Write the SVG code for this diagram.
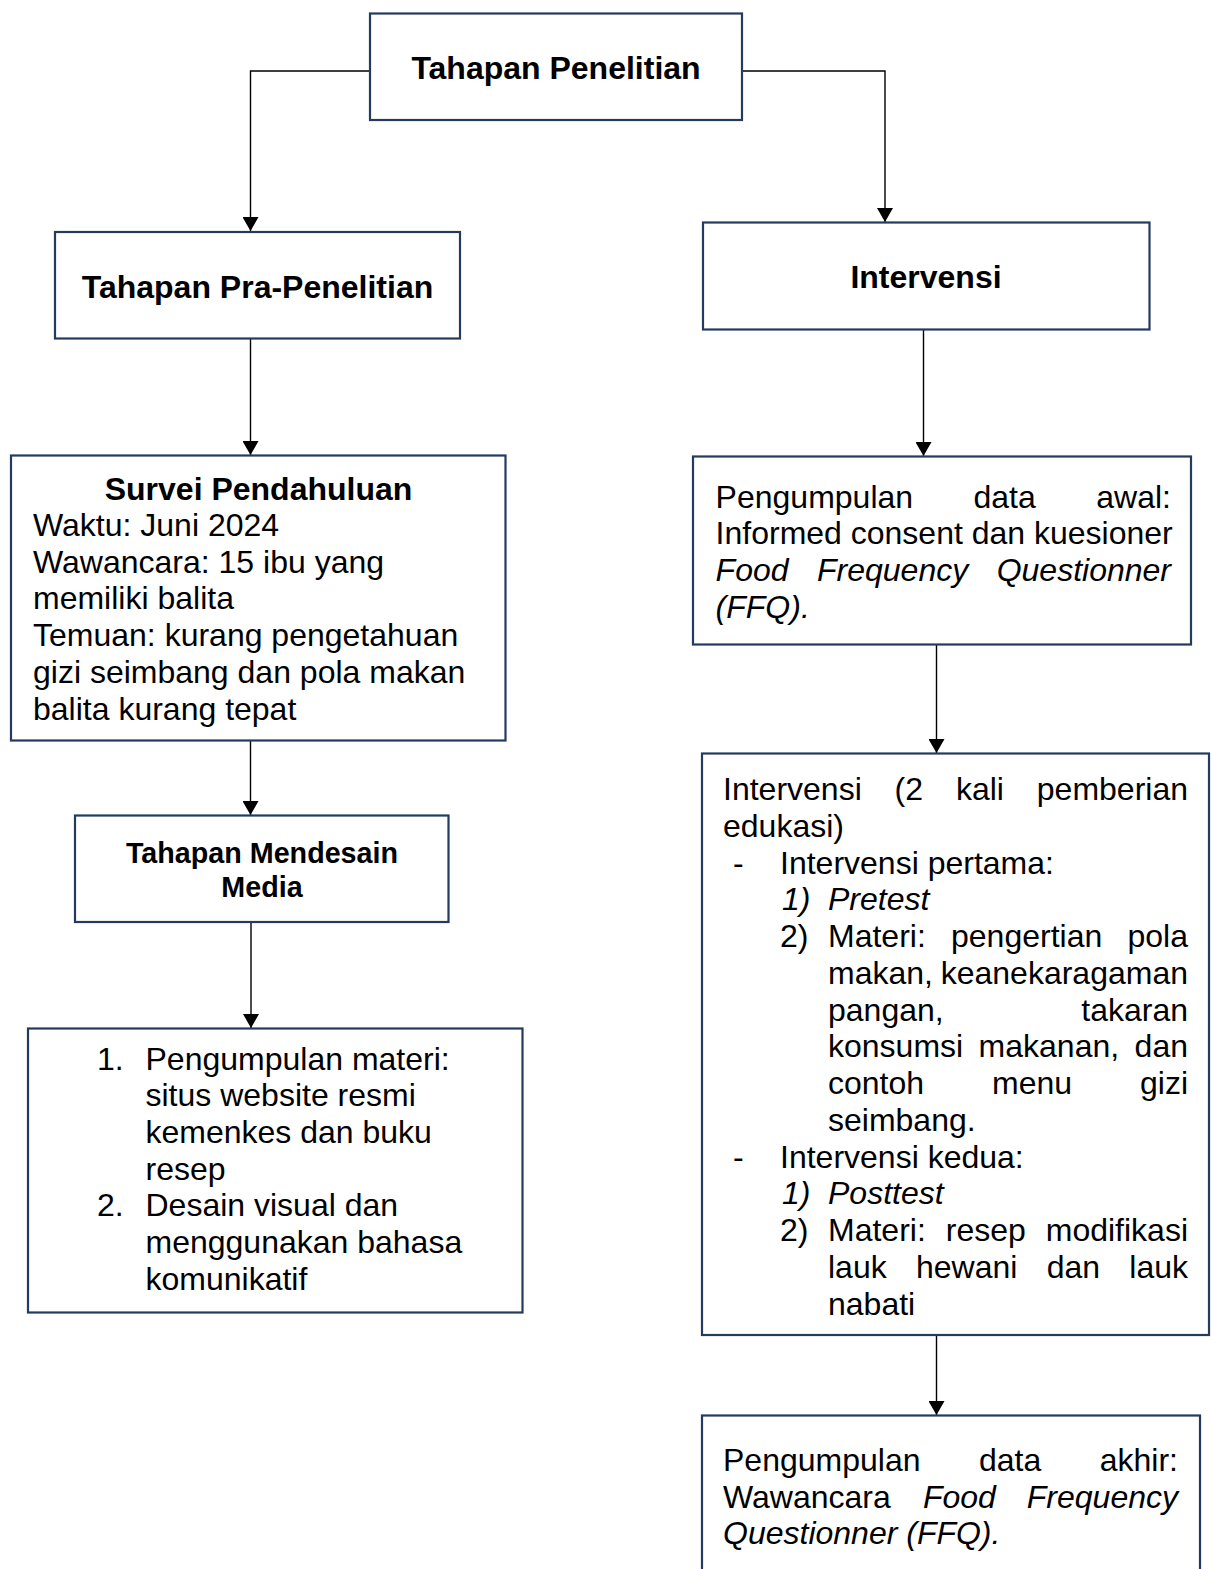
<svg xmlns="http://www.w3.org/2000/svg" width="1212" height="1569" viewBox="0 0 1212 1569">
<style>
  .box { fill: #ffffff; stroke: #243a5e; stroke-width: 2.2; }
  .conn { fill: none; stroke: #000000; stroke-width: 1.4; }
  text { font-family: "Liberation Sans", Arial, sans-serif; fill: #000000; font-size: 32px; }
  .b { font-weight: bold; }
  .c { text-anchor: middle; }
  .e { text-anchor: end; }
  .i { font-style: italic; }
  .m { font-size: 28.7px; }
</style>
<defs>
  <marker id="arr" markerUnits="userSpaceOnUse" markerWidth="14" markerHeight="16" refX="14" refY="8" orient="auto">
    <path d="M0,0 L14,8 L0,16 Z" fill="#000000"/>
  </marker>
</defs>
<rect width="1212" height="1569" fill="#ffffff"/>

<g id="connectors">
  <path class="conn" d="M370,71 H250.5 V231" marker-end="url(#arr)"/>
  <path class="conn" d="M742,71 H885 V222" marker-end="url(#arr)"/>
  <path class="conn" d="M250.5,339 V455" marker-end="url(#arr)"/>
  <path class="conn" d="M250.5,741 V815" marker-end="url(#arr)"/>
  <path class="conn" d="M251,922 V1028" marker-end="url(#arr)"/>
  <path class="conn" d="M923.5,330 V456" marker-end="url(#arr)"/>
  <path class="conn" d="M936.5,645 V753" marker-end="url(#arr)"/>
  <path class="conn" d="M936.5,1335 V1415" marker-end="url(#arr)"/>
</g>

<g id="node-tahapan-penelitian">
  <rect class="box" x="370" y="13.5" width="372" height="106.5"/>
  <text class="b c" x="556" y="79">Tahapan Penelitian</text>
</g>

<g id="node-pra-penelitian">
  <rect class="box" x="55" y="232" width="405" height="106.5"/>
  <text class="b c" x="257.5" y="298">Tahapan Pra-Penelitian</text>
</g>

<g id="node-intervensi">
  <rect class="box" x="703" y="222.5" width="446.5" height="107"/>
  <text class="b c" x="926" y="288">Intervensi</text>
</g>

<g id="node-survei">
  <rect class="box" x="11" y="455.5" width="494.5" height="285"/>
  <text class="b c" x="258.5" y="500">Survei Pendahuluan</text>
  <text x="33" y="536">Waktu: Juni 2024</text>
  <text x="33" y="572.7">Wawancara: 15 ibu yang</text>
  <text x="33" y="609.4">memiliki balita</text>
  <text x="33" y="646.1">Temuan: kurang pengetahuan</text>
  <text x="33" y="682.8">gizi seimbang dan pola makan</text>
  <text x="33" y="719.5">balita kurang tepat</text>
</g>

<g id="node-mendesain">
  <rect class="box" x="75" y="815.5" width="373.5" height="106.5"/>
  <text class="b c m" x="262" y="863">Tahapan Mendesain</text>
  <text class="b c m" x="262" y="897">Media</text>
</g>

<g id="node-materi">
  <rect class="box" x="28" y="1028.5" width="494.5" height="284"/>
  <text x="97" y="1069.5">1.</text>
  <text x="145.5" y="1069.5">Pengumpulan materi:</text>
  <text x="145.5" y="1106.2">situs website resmi</text>
  <text x="145.5" y="1142.9">kemenkes dan buku</text>
  <text x="145.5" y="1179.6">resep</text>
  <text x="97" y="1216.3">2.</text>
  <text x="145.5" y="1216.3">Desain visual dan</text>
  <text x="145.5" y="1253">menggunakan bahasa</text>
  <text x="145.5" y="1289.7">komunikatif</text>
</g>

<g id="node-data-awal">
  <rect class="box" x="693" y="456.5" width="498" height="188"/>
  <text x="715.6" y="507.5">Pengumpulan</text>
  <text x="973.5" y="507.5">data</text>
  <text class="e" x="1171" y="507.5">awal:</text>
  <text x="715.6" y="544.2">Informed consent dan kuesioner</text>
  <text class="i" x="715.6" y="580.9">Food</text>
  <text class="i" x="817" y="580.9">Frequency</text>
  <text class="i e" x="1171" y="580.9">Questionner</text>
  <text class="i" x="715.6" y="617.6">(FFQ).</text>
</g>

<g id="node-intervensi-detail">
  <rect class="box" x="702" y="753.5" width="507" height="581.5"/>
  <text x="723" y="800">Intervensi</text>
  <text x="894.6" y="800">(2</text>
  <text x="955.9" y="800">kali</text>
  <text class="e" x="1188" y="800">pemberian</text>
  <text x="723" y="836.75">edukasi)</text>
  <text x="733" y="873.5">-</text>
  <text x="780" y="873.5">Intervensi pertama:</text>
  <text class="i" x="782" y="910.25">1)</text>
  <text class="i" x="828" y="910.25">Pretest</text>
  <text x="780" y="947">2)</text>
  <text x="828" y="947">Materi:</text>
  <text x="951" y="947">pengertian</text>
  <text class="e" x="1188" y="947">pola</text>
  <text x="828" y="983.75">makan,</text>
  <text class="e" x="1188" y="983.75">keanekaragaman</text>
  <text x="828" y="1020.5">pangan,</text>
  <text class="e" x="1188" y="1020.5">takaran</text>
  <text x="828" y="1057.25">konsumsi</text>
  <text x="978.6" y="1057.25">makanan,</text>
  <text class="e" x="1188" y="1057.25">dan</text>
  <text x="828" y="1094">contoh</text>
  <text x="992.1" y="1094">menu</text>
  <text class="e" x="1188" y="1094">gizi</text>
  <text x="828" y="1130.75">seimbang.</text>
  <text x="733" y="1167.5">-</text>
  <text x="780" y="1167.5">Intervensi kedua:</text>
  <text class="i" x="782" y="1204.25">1)</text>
  <text class="i" x="828" y="1204.25">Posttest</text>
  <text x="780" y="1241">2)</text>
  <text x="828" y="1241">Materi:</text>
  <text x="945.8" y="1241">resep</text>
  <text class="e" x="1188" y="1241">modifikasi</text>
  <text x="828" y="1277.75">lauk</text>
  <text x="916" y="1277.75">hewani</text>
  <text x="1046.7" y="1277.75">dan</text>
  <text class="e" x="1188" y="1277.75">lauk</text>
  <text x="828" y="1314.5">nabati</text>
</g>

<g id="node-data-akhir">
  <rect class="box" x="702" y="1415.5" width="498" height="170"/>
  <text x="723" y="1471">Pengumpulan</text>
  <text x="978.9" y="1471">data</text>
  <text class="e" x="1178" y="1471">akhir:</text>
  <text x="723" y="1507.7">Wawancara</text>
  <text class="i" x="922.9" y="1507.7">Food</text>
  <text class="i e" x="1178" y="1507.7">Frequency</text>
  <text class="i" x="723" y="1544.4">Questionner (FFQ).</text>
</g>
</svg>
